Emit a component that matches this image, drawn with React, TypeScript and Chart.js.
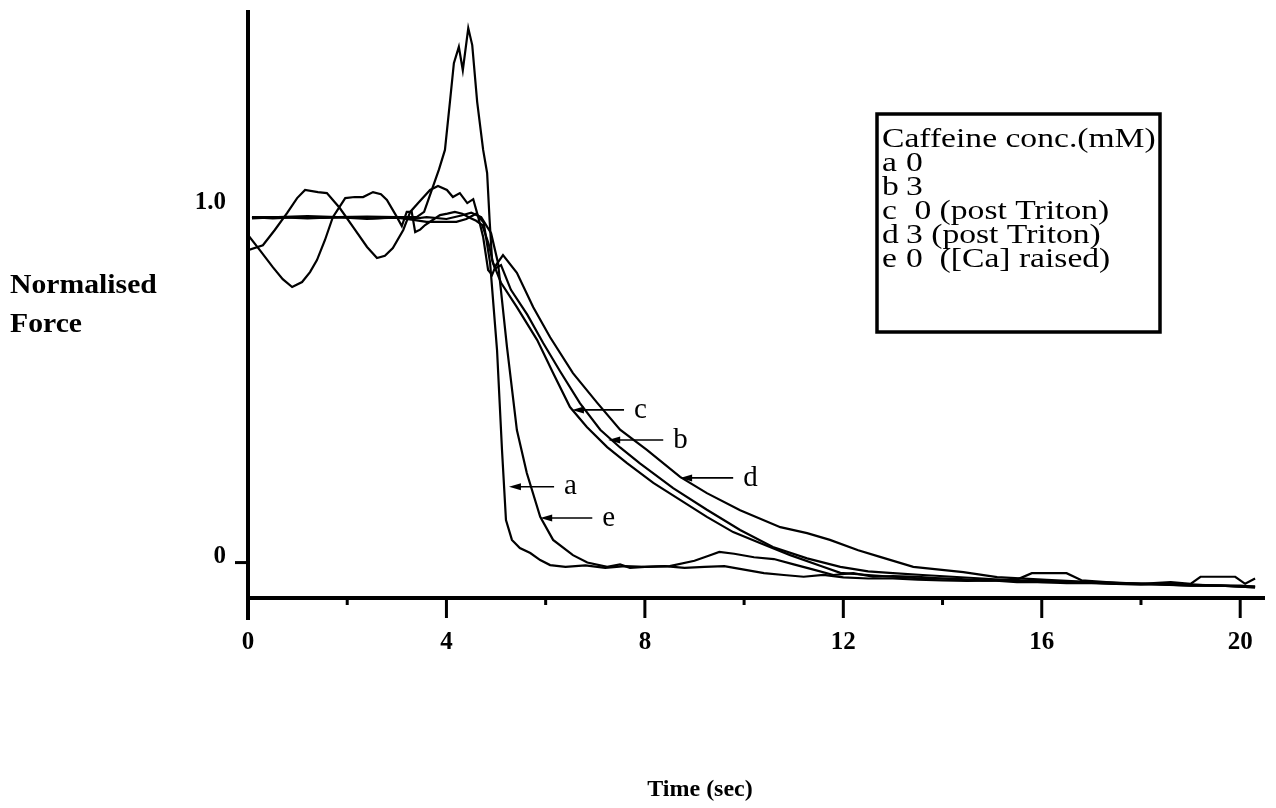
import React, { useEffect, useRef } from 'react';
import { Chart, registerables } from 'chart.js';

Chart.register(...registerables);

// ---- data (time in s, normalised force) ----
const traceATime = [0.08, 0.5, 1.0, 1.5, 2.0, 2.5, 3.0, 3.3, 3.6, 3.9, 4.2, 4.4, 4.6, 4.75, 4.88, 5.02, 5.12, 5.2, 5.32, 5.48, 5.69, 5.89, 6.09, 6.4, 6.8, 7.2, 7.6, 8.0, 8.4, 8.8, 9.2, 9.6, 10.0, 10.4, 10.8, 11.2, 11.6, 12.0, 12.5, 13.0, 13.5, 14.0, 14.5, 15.0, 15.5, 16.0, 16.5, 17.0, 17.5, 18.0, 18.5, 19.0, 19.5, 20.0, 20.3];
const traceAForce = [0.975, 0.972, 0.975, 0.973, 0.975, 0.972, 0.974, 0.968, 0.962, 0.962, 0.962, 0.97, 0.985, 0.96, 0.846, 0.6, 0.318, 0.12, 0.064, 0.041, 0.027, 0.007, -0.007, -0.012, -0.008, -0.015, -0.01, -0.012, -0.01, -0.015, -0.012, -0.01, -0.02, -0.03, -0.035, -0.04, -0.035, -0.042, -0.045, -0.045, -0.048, -0.05, -0.052, -0.05, -0.055, -0.055, -0.058, -0.058, -0.06, -0.062, -0.06, -0.062, -0.065, -0.065, -0.068];

const traceBTime = [0.08, 0.6, 1.2, 1.8, 2.4, 3.0, 3.4, 3.55, 3.7, 3.85, 3.97, 4.07, 4.15, 4.25, 4.33, 4.44, 4.52, 4.62, 4.74, 4.82, 4.87, 4.92, 4.98, 5.1, 5.3, 5.63, 5.95, 6.29, 6.69, 7.1, 7.5, 7.9, 8.57, 9.25, 9.92, 10.58, 11.27, 11.94, 12.5, 13.0, 13.6, 14.2, 14.8, 15.4, 16.0, 16.8, 17.5, 18.2, 19.0, 19.6, 20.3];
const traceBForce = [0.975, 0.975, 0.978, 0.975, 0.977, 0.975, 0.975, 0.99, 1.05, 1.11, 1.165, 1.3, 1.41, 1.456, 1.39, 1.509, 1.461, 1.3, 1.165, 1.1, 0.967, 0.854, 0.83, 0.84, 0.77, 0.7, 0.62, 0.54, 0.45, 0.375, 0.325, 0.28, 0.21, 0.149, 0.092, 0.044, 0.012, -0.012, -0.025, -0.03, -0.035, -0.04, -0.045, -0.05, -0.052, -0.055, -0.058, -0.06, -0.062, -0.065, -0.068];

const traceCTime = [0.0, 0.25, 0.5, 0.7, 0.89, 1.09, 1.25, 1.39, 1.55, 1.71, 1.96, 2.15, 2.32, 2.52, 2.68, 2.8, 3.0, 3.1, 3.2, 3.3, 3.37, 3.47, 3.57, 3.7, 3.87, 4.02, 4.17, 4.32, 4.48, 4.6, 4.72, 4.85, 4.94, 5.1, 5.42, 5.83, 6.15, 6.49, 6.83, 7.24, 7.64, 8.17, 8.71, 9.25, 9.78, 10.32, 10.93, 11.59, 11.94, 12.5, 13.0, 13.6, 14.2, 14.8, 15.4, 16.0, 16.8, 17.5, 18.2, 19.0, 19.6, 20.3];
const traceCForce = [0.925, 0.88, 0.834, 0.8, 0.778, 0.792, 0.82, 0.854, 0.91, 0.975, 1.029, 1.032, 1.032, 1.046, 1.04, 1.024, 0.976, 0.95, 0.99, 0.99, 0.933, 0.94, 0.953, 0.965, 0.981, 0.985, 0.99, 0.985, 0.973, 0.965, 0.953, 0.9, 0.846, 0.79, 0.721, 0.628, 0.535, 0.439, 0.383, 0.326, 0.281, 0.225, 0.177, 0.129, 0.086, 0.055, 0.021, -0.012, -0.029, -0.035, -0.04, -0.045, -0.045, -0.05, -0.05, -0.055, -0.055, -0.06, -0.06, -0.065, -0.065, -0.07];

const traceDTime = [0.0, 0.3, 0.54, 0.79, 0.99, 1.15, 1.41, 1.59, 1.85, 2.12, 2.4, 2.6, 2.76, 2.92, 3.13, 3.27, 3.43, 3.67, 3.83, 4.01, 4.13, 4.27, 4.42, 4.54, 4.64, 4.74, 4.84, 4.92, 5.0, 5.14, 5.42, 5.75, 6.09, 6.55, 7.04, 7.5, 8.04, 8.71, 9.25, 9.92, 10.73, 11.27, 11.73, 12.3, 12.74, 13.41, 14.42, 15.1, 16.1, 17.0, 18.0, 19.0, 19.6, 20.3];
const traceDForce = [0.882, 0.896, 0.939, 0.987, 1.029, 1.052, 1.046, 1.043, 1.001, 0.947, 0.891, 0.86, 0.866, 0.888, 0.939, 0.99, 1.015, 1.052, 1.063, 1.052, 1.032, 1.043, 1.015, 1.026, 0.976, 0.919, 0.826, 0.812, 0.84, 0.868, 0.818, 0.721, 0.636, 0.535, 0.451, 0.375, 0.318, 0.242, 0.196, 0.148, 0.1, 0.083, 0.064, 0.035, 0.016, -0.012, -0.027, -0.041, -0.049, -0.055, -0.06, -0.065, -0.065, -0.07];

const traceETime = [0.08, 0.6, 1.2, 1.8, 2.4, 3.0, 3.3, 3.6, 4.0, 4.3, 4.5, 4.7, 4.9, 5.04, 5.22, 5.42, 5.62, 5.89, 6.15, 6.55, 6.84, 7.24, 7.5, 7.7, 8.0, 8.5, 9.0, 9.3, 9.5, 9.8, 10.2, 10.6, 11.0, 11.4, 11.8, 12.2, 12.6, 13.0, 13.5, 14.0, 14.5, 15.0, 15.5, 15.8, 16.5, 16.8, 17.3, 18.0, 18.6, 19.0, 19.2, 19.9, 20.1, 20.3];
const traceEForce = [0.972, 0.975, 0.972, 0.975, 0.97, 0.975, 0.97, 0.975, 0.97, 0.98, 0.988, 0.975, 0.93, 0.846, 0.609, 0.374, 0.253, 0.129, 0.064, 0.021, 0.0, -0.012, -0.005, -0.015, -0.012, -0.01, 0.005, 0.02, 0.03, 0.025, 0.015, 0.01, -0.005, -0.02, -0.035, -0.03, -0.04, -0.038, -0.04, -0.045, -0.05, -0.05, -0.048, -0.03, -0.03, -0.05, -0.055, -0.06, -0.055, -0.06, -0.04, -0.04, -0.06, -0.045];

const xTickValues = [0, 2, 4, 6, 8, 10, 12, 14, 16, 18, 20];
const xTickLabels = ['0', '', '4', '', '8', '', '12', '', '16', '', '20'];
const yTickValues = [0, 1];
const yTickLabels = ['0', '1.0'];

const legendTitle = 'Caffeine conc.(mM)';
const legendKeys = ['a', 'b', 'c', 'd', 'e'];
const legendTexts = ['0', '3', ' 0 (post Triton)', '3 (post Triton)', '0  ([Ca] raised)'];

const arrowLetters = ['c', 'b', 'd', 'a', 'e'];
const arrowTipTime = [6.53, 7.26, 8.71, 5.26, 5.89];
const arrowTailTime = [7.58, 8.37, 9.78, 6.17, 6.94];
const arrowForce = [0.431, 0.346, 0.239, 0.214, 0.126];

const yTitleLines = ['Normalised', 'Force'];
const xTitle = 'Time (sec)';

const SERIF = '"Liberation Serif", "Times New Roman", serif';

function zip(t: number[], f: number[]) {
  const n = Math.min(t.length, f.length);
  const out: { x: number; y: number }[] = [];
  for (let i = 0; i < n; i++) out.push({ x: t[i], y: f[i] });
  return out;
}

function wideText(ctx: any, text: string, x: number, y: number, sx: number) {
  ctx.save();
  ctx.translate(x, y);
  ctx.scale(sx, 1);
  ctx.fillText(text, 0, 0);
  ctx.restore();
}

const decorPlugin = {
  id: 'decor',
  afterDraw(chart: any) {
    const { ctx, chartArea, scales } = chart;
    const xs = scales.x;
    const ys = scales.y;
    ctx.save();
    ctx.strokeStyle = '#000';
    ctx.fillStyle = '#000';
    ctx.lineCap = 'butt';

    const x0 = xs.getPixelForValue(0);
    const yb = chartArea.bottom;
    // axes
    ctx.lineWidth = 4;
    ctx.beginPath();
    ctx.moveTo(x0, chartArea.top);
    ctx.lineTo(x0, yb + 22);
    ctx.stroke();
    ctx.beginPath();
    ctx.moveTo(x0, yb);
    ctx.lineTo(chartArea.right, yb);
    ctx.stroke();
    // x ticks
    ctx.lineWidth = 3;
    xTickValues.forEach((v, i) => {
      const px = xs.getPixelForValue(v);
      const len = xTickLabels[i] ? 20 : 7;
      ctx.beginPath();
      ctx.moveTo(px, yb);
      ctx.lineTo(px, yb + len);
      ctx.stroke();
    });
    // y tick at 0
    const py0 = ys.getPixelForValue(0);
    ctx.beginPath();
    ctx.moveTo(x0 - 13, py0);
    ctx.lineTo(x0, py0);
    ctx.stroke();

    // axis titles
    ctx.font = `bold 27px ${SERIF}`;
    ctx.textAlign = 'left';
    ctx.textBaseline = 'middle';
    wideText(ctx, yTitleLines[0], 10, 286, 1.1);
    wideText(ctx, yTitleLines[1], 10, 325, 1.1);
    ctx.font = `bold 24px ${SERIF}`;
    ctx.textAlign = 'center';
    ctx.fillText(xTitle, 700, 790);

    // legend box
    ctx.lineWidth = 3.5;
    ctx.strokeRect(877, 114, 283, 218);
    ctx.font = `28px ${SERIF}`;
    ctx.textAlign = 'left';
    const sx = 1.2;
    wideText(ctx, legendTitle, 882, 140, sx);
    legendKeys.forEach((k, i) => {
      const y = 164 + i * 24;
      wideText(ctx, k, 882, y, sx);
      wideText(ctx, legendTexts[i], 906, y, sx);
    });

    // arrows with letters
    ctx.lineWidth = 1.6;
    ctx.font = `29px ${SERIF}`;
    arrowLetters.forEach((l, i) => {
      const xt = xs.getPixelForValue(arrowTipTime[i]);
      const xe = xs.getPixelForValue(arrowTailTime[i]);
      const y = ys.getPixelForValue(arrowForce[i]);
      ctx.beginPath();
      ctx.moveTo(xt + 8, y);
      ctx.lineTo(xe, y);
      ctx.stroke();
      ctx.beginPath();
      ctx.moveTo(xt, y);
      ctx.lineTo(xt + 12, y - 3.5);
      ctx.lineTo(xt + 12, y + 3.5);
      ctx.closePath();
      ctx.fill();
      ctx.textAlign = 'left';
      ctx.fillText(l, xe + 10, y);
    });
    ctx.restore();
  },
};

export default function App() {
  const ref = useRef<HTMLCanvasElement | null>(null);
  useEffect(() => {
    if (!ref.current) return;
    const mk = (t: number[], f: number[]) => ({
      data: zip(t, f),
      showLine: true,
      borderColor: '#000',
      backgroundColor: '#000',
      borderWidth: 2.2,
      pointRadius: 0,
      tension: 0,
      fill: false,
    });
    const chart = new Chart(ref.current, {
      type: 'scatter',
      data: {
        datasets: [
          { label: 'a', ...mk(traceATime, traceAForce) },
          { label: 'b', ...mk(traceBTime, traceBForce) },
          { label: 'c', ...mk(traceCTime, traceCForce) },
          { label: 'd', ...mk(traceDTime, traceDForce) },
          { label: 'e', ...mk(traceETime, traceEForce) },
        ],
      },
      options: {
        animation: false,
        responsive: false,
        devicePixelRatio: 1,
        layout: { padding: { top: 10, right: 11, left: 0, bottom: 0 } },
        plugins: { legend: { display: false }, tooltip: { enabled: false }, title: { display: false } },
        scales: {
          x: {
            type: 'linear',
            min: 0,
            max: 20.5,
            grid: { display: false, drawTicks: false },
            border: { display: false },
            afterBuildTicks: (s: any) => {
              s.ticks = xTickValues.map((v) => ({ value: v }));
            },
            afterFit: (s: any) => {
              s.height = 210;
              s.paddingLeft = 0;
              s.paddingRight = 0;
              s.paddingTop = 0;
              s.paddingBottom = 0;
            },
            ticks: {
              autoSkip: false,
              maxRotation: 0,
              padding: 30,
              color: '#000',
              font: { family: SERIF, size: 25, weight: 'bold' },
              callback: (v: any) => {
                const i = xTickValues.indexOf(Number(v));
                return i >= 0 ? xTickLabels[i] : '';
              },
            },
          },
          y: {
            type: 'linear',
            min: -0.1,
            max: 1.56,
            grid: { display: false, drawTicks: false },
            border: { display: false },
            afterBuildTicks: (s: any) => {
              s.ticks = yTickValues.map((v) => ({ value: v }));
            },
            afterFit: (s: any) => {
              s.width = 248;
              s.paddingLeft = 0;
              s.paddingRight = 0;
              s.paddingTop = 0;
              s.paddingBottom = 0;
            },
            ticks: {
              padding: 22,
              labelOffset: -6,
              color: '#000',
              font: { family: SERIF, size: 25, weight: 'bold' },
              callback: (v: any) => {
                const i = yTickValues.indexOf(Number(v));
                return i >= 0 ? yTickLabels[i] : '';
              },
            },
          },
        },
      },
      plugins: [decorPlugin],
    } as any);
    return () => chart.destroy();
  }, []);
  return (
    <div style={{ position: 'fixed', left: 0, top: 0, width: 1276, height: 808, background: '#fff' }}>
      <canvas ref={ref} width={1276} height={808} />
    </div>
  );
}
